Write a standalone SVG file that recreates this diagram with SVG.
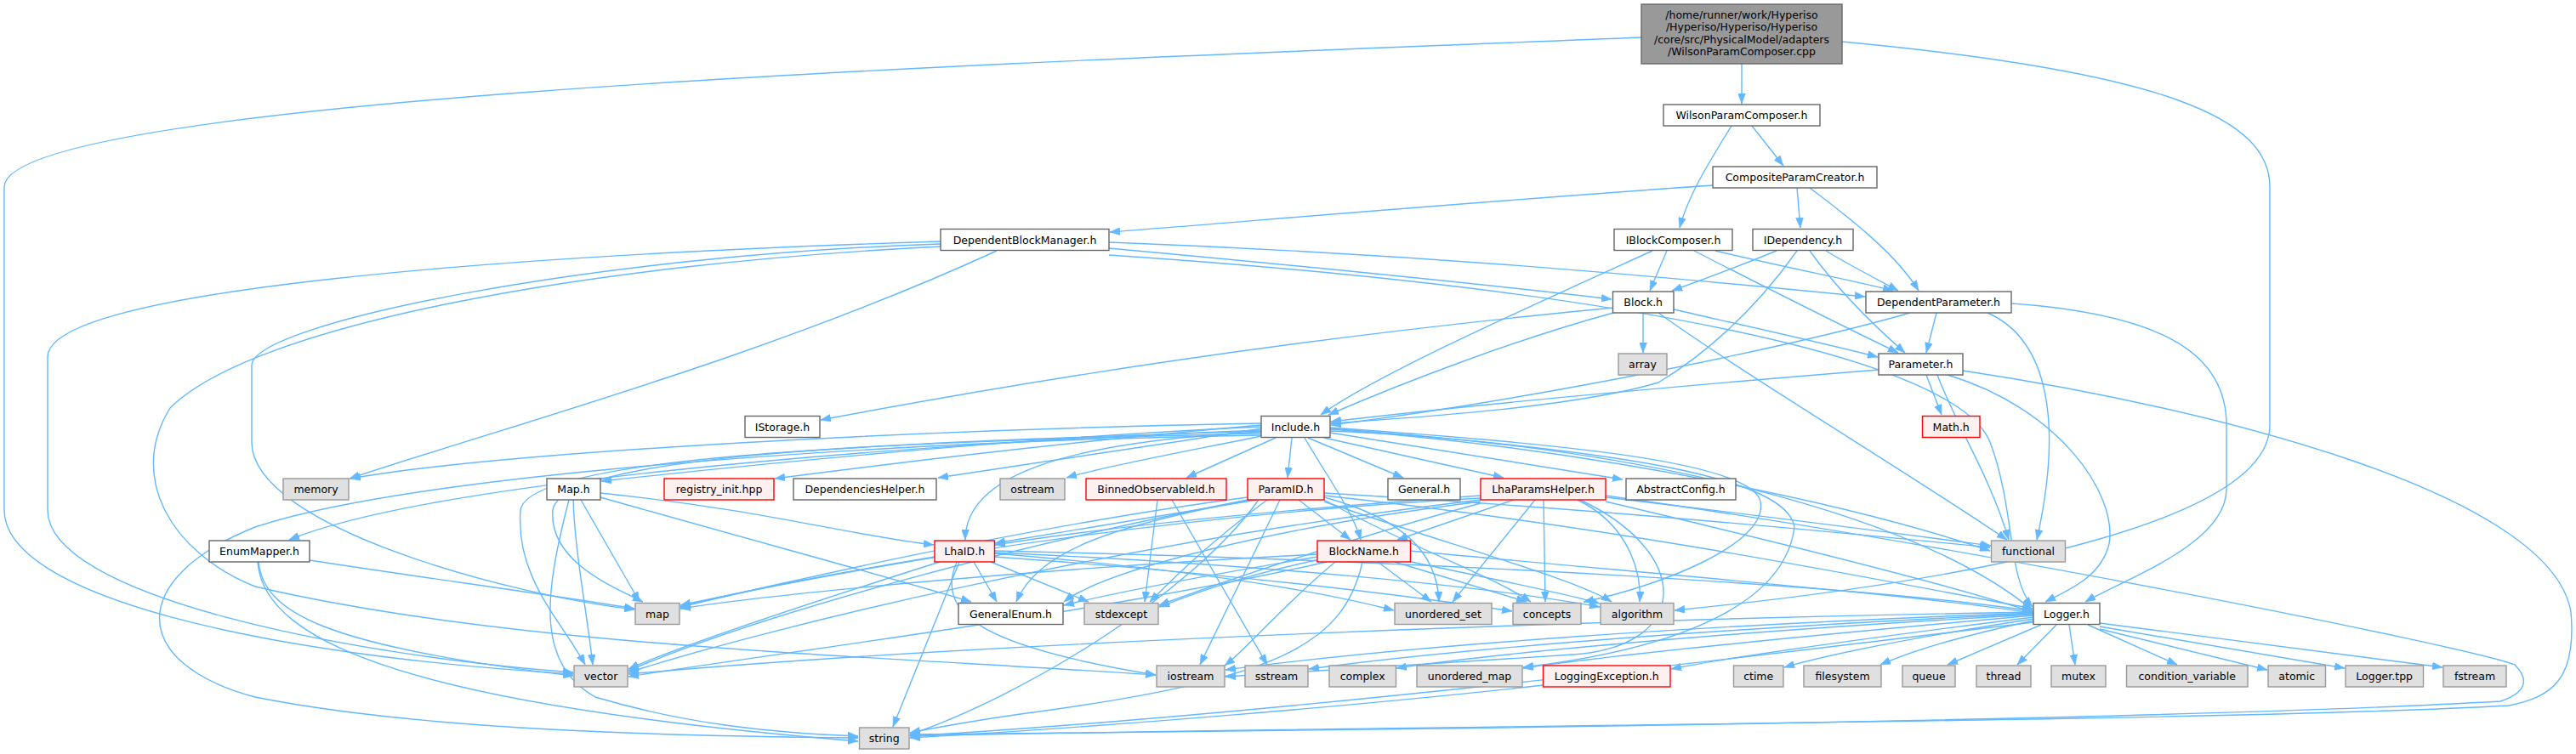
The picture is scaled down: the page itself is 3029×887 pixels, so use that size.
<svg xmlns="http://www.w3.org/2000/svg" width="3029" height="887" viewBox="0 0 3029 887">
<style>
.n rect{stroke-width:1.4}
.w rect{fill:#ffffff;stroke:#666666}
.g rect{fill:#e0e0e0;stroke:#999999}
.r rect{fill:#fff0f0;stroke:#ff0000}
.m rect{fill:#999999;stroke:#666666}
.n text{font-family:"DejaVu Sans","Liberation Sans",sans-serif;font-size:12.5px;text-anchor:middle;fill:#000}
.e path{fill:none;stroke:#63b8ff;stroke-width:1.4;marker-end:url(#a)}
</style>
<defs>
<marker id="a" markerUnits="userSpaceOnUse" markerWidth="12" markerHeight="9" refX="12" refY="4.5" orient="auto">
<path d="M0,0 L12,4.5 L0,9 z" fill="#63b8ff" stroke="#63b8ff" stroke-width="0.5"/>
</marker>
</defs>
<rect width="3029" height="887" fill="#ffffff"/>
<g id="edges" class="e">
<path d="M2048,75 L2048,122"/>
<path d="M1930,44 C1300,70 5,110 5,220 L5,600 C5,700 300,770 674,793"/>
<path d="M2166,49 C2550,85 2669,140 2669,220 L2669,500 C2669,610 2350,680 1969,718"/>
<path d="M2060,148 L2097,195"/>
<path d="M2036,148 C2010,190 1985,230 1975,268"/>
<path d="M2113,221 L2117,268"/>
<path d="M2128,221 C2180,260 2230,300 2256,342"/>
<path d="M2014,218 C1700,240 1450,262 1305,273"/>
<path d="M1960,295 L1940,342"/>
<path d="M2017,295 C2100,315 2180,330 2226,342"/>
<path d="M1992,295 C2080,340 2180,390 2232,415"/>
<path d="M1943,295 C1800,360 1620,440 1553,488"/>
<path d="M2089,295 C2040,315 2000,330 1966,342"/>
<path d="M2147,295 C2180,315 2210,330 2232,342"/>
<path d="M2128,295 C2160,340 2200,380 2240,415"/>
<path d="M2113,295 C2060,370 2000,420 1950,450 C1850,480 1650,492 1565,498"/>
<path d="M1304,292 C1500,310 1750,335 1895,352"/>
<path d="M1304,285 C1700,300 2000,330 2193,349"/>
<path d="M1304,300 C1900,340 2300,420 2340,520 C2370,600 2360,680 2390,714"/>
<path d="M1172,295 C900,420 600,500 411,563"/>
<path d="M1106,284 C600,300 56,340 56,420 L56,600 C56,700 400,770 674,791"/>
<path d="M1106,287 C700,300 296,380 296,430 L296,520 C296,620 600,700 746,717"/>
<path d="M1106,290 C700,310 300,380 200,480 C150,560 200,650 300,690 C600,760 1000,770 1359,794"/>
<path d="M1932,368 L1932,415"/>
<path d="M1968,364 C2060,385 2150,405 2208,420"/>
<path d="M1897,368 C1780,400 1650,450 1562,488"/>
<path d="M1897,362 C1500,400 1200,450 965,494"/>
<path d="M1950,368 C2050,440 2250,560 2360,635"/>
<path d="M2277,368 L2265,415"/>
<path d="M2246,368 C2100,410 1800,470 1565,500"/>
<path d="M2337,368 C2410,400 2425,500 2395,635"/>
<path d="M2365,357 C2550,370 2618,420 2618,500 L2618,575 C2618,640 2500,680 2452,708"/>
<path d="M2209,435 C1900,460 1700,480 1565,496"/>
<path d="M2265,441 L2283,488"/>
<path d="M2278,441 C2300,500 2340,560 2362,635"/>
<path d="M2290,441 C2420,480 2490,580 2480,640 C2470,680 2430,695 2405,708"/>
<path d="M2308,436 C2600,480 3000,580 3023,720 C3030,800 3000,820 2950,830 C2600,850 1500,855 1070,866"/>
<path d="M1483,498 C1100,505 600,530 412,563"/>
<path d="M1483,502 C1200,515 900,545 707,566"/>
<path d="M1483,506 C1000,525 500,570 340,635"/>
<path d="M1483,500 C1250,520 1050,545 911,563"/>
<path d="M1484,504 C1350,525 1200,548 1103,562"/>
<path d="M1488,512 C1400,530 1300,548 1254,562"/>
<path d="M1500,515 L1395,562"/>
<path d="M1519,515 L1514,562"/>
<path d="M1483,508 C1250,520 1135,560 1135,635"/>
<path d="M1538,515 L1650,562"/>
<path d="M1557,515 L1768,562"/>
<path d="M1564,509 L1908,564"/>
<path d="M1534,515 C1560,560 1590,600 1600,635"/>
<path d="M1564,503 C1800,520 2060,540 2070,590 C2080,640 1950,690 1862,708"/>
<path d="M1564,504 C1900,530 2100,560 2110,620 C2100,700 2000,760 1791,785"/>
<path d="M1483,510 C1000,520 620,540 612,600 C606,680 660,730 688,782"/>
<path d="M1483,507 C1100,520 660,530 650,600 C645,660 720,690 756,708"/>
<path d="M1483,512 C1000,520 480,560 300,620 C150,680 150,780 300,820 C500,860 800,866 1009,868"/>
<path d="M1564,507 C1900,520 2250,600 2390,718"/>
<path d="M1564,505 C1900,530 2200,600 2340,648"/>
<path d="M683,588 L752,708"/>
<path d="M674,588 C676,650 690,720 697,782"/>
<path d="M669,588 C640,700 630,780 700,820 C800,850 900,862 1009,866"/>
<path d="M706,580 C900,600 1000,630 1098,641"/>
<path d="M706,585 C900,640 1050,680 1142,708"/>
<path d="M364,659 C500,680 650,700 746,716"/>
<path d="M304,661 C310,720 380,760 674,795"/>
<path d="M303,661 C310,760 500,830 1009,872"/>
<path d="M1361,588 L1346,708"/>
<path d="M1378,588 L1490,782"/>
<path d="M1478,588 C1350,610 1250,625 1170,639"/>
<path d="M1505,588 L1411,782"/>
<path d="M1490,588 C1420,640 1380,680 1352,708"/>
<path d="M1467,585 C1200,620 900,690 800,714"/>
<path d="M1467,588 C1200,640 900,720 739,789"/>
<path d="M1480,588 C1400,700 1200,820 1070,864"/>
<path d="M1527,588 L1588,635"/>
<path d="M1470,588 C1300,620 1220,650 1195,708"/>
<path d="M1557,585 C1650,610 1690,650 1692,708"/>
<path d="M1557,588 C1650,640 1760,680 1800,708"/>
<path d="M1557,590 C1700,640 1850,680 1895,708"/>
<path d="M1557,583 C1900,620 2200,680 2390,716"/>
<path d="M1557,580 C1900,600 2200,630 2340,644"/>
<path d="M1145,661 L1172,708"/>
<path d="M1165,661 L1280,708"/>
<path d="M1099,655 C950,680 850,700 800,714"/>
<path d="M1105,661 C950,710 800,760 739,787"/>
<path d="M1128,661 L1050,855"/>
<path d="M1125,661 C1100,720 1150,760 1359,794"/>
<path d="M1169,651 C1400,670 1550,695 1639,718"/>
<path d="M1169,655 C1450,675 1650,700 1778,719"/>
<path d="M1169,650 C1500,665 1750,690 1881,714"/>
<path d="M1169,648 C1700,660 2200,690 2390,719"/>
<path d="M1780,588 L1643,635"/>
<path d="M1805,588 L1708,708"/>
<path d="M1815,588 L1817,708"/>
<path d="M1855,588 C1920,620 1930,680 1928,708"/>
<path d="M1741,583 C1500,600 1300,620 1170,641"/>
<path d="M1741,586 C1300,610 950,680 800,712"/>
<path d="M1741,588 C1300,640 900,740 739,791"/>
<path d="M1741,590 C1500,620 1300,670 1251,708"/>
<path d="M1741,592 C1600,630 1450,680 1363,712"/>
<path d="M1858,588 C1990,650 1990,760 1850,770 C1700,780 1550,790 1441,796"/>
<path d="M1888,590 C2100,640 2300,690 2390,720"/>
<path d="M1888,585 C2100,610 2250,630 2341,642"/>
<path d="M1888,583 C2300,640 2900,760 2957,782 C2975,800 2970,815 2940,825 C2500,850 1500,860 1070,864"/>
<path d="M1620,661 L1683,708"/>
<path d="M1640,661 L1795,708"/>
<path d="M1655,660 C1750,680 1850,700 1881,710"/>
<path d="M1549,655 C1400,680 1300,700 1251,712"/>
<path d="M1552,658 C1450,680 1400,700 1363,714"/>
<path d="M1549,652 C1200,670 900,700 800,716"/>
<path d="M1560,661 C1300,720 900,770 739,796"/>
<path d="M1602,661 C1580,760 1500,800 1200,840 C1130,850 1090,858 1070,862"/>
<path d="M1570,661 C1500,720 1470,760 1440,783"/>
<path d="M1658,648 C2000,680 2250,700 2390,721"/>
<path d="M2400,735 L2290,782"/>
<path d="M2418,735 L2372,782"/>
<path d="M2433,735 L2440,782"/>
<path d="M2455,735 L2560,782"/>
<path d="M2469,740 L2666,788"/>
<path d="M2469,737 L2757,786"/>
<path d="M2469,733 L2872,785"/>
<path d="M2391,730 C2300,750 2250,765 2211,782"/>
<path d="M2391,728 C2250,750 2150,770 2098,785"/>
<path d="M2391,726 C2200,750 2050,770 1965,787"/>
<path d="M2391,724 C2100,750 1900,770 1791,786"/>
<path d="M2391,723 C2000,745 1750,770 1642,786"/>
<path d="M2391,722 C2000,740 1700,765 1539,787"/>
<path d="M2391,721 C2000,735 1650,760 1441,788"/>
<path d="M2391,720 C1800,730 1100,760 739,793"/>
<path d="M2391,732 C2000,780 1500,840 1070,866"/>
<path d="M1815,806 C1600,830 1300,855 1070,868"/>
</g>
<g id="n-main" class="n m"><rect x="1930" y="5" width="236" height="70"/><text x="2048" y="21.5">/home/runner/work/Hyperiso</text><text x="2048" y="36">/Hyperiso/Hyperiso/Hyperiso</text><text x="2048" y="50.5">/core/src/PhysicalModel/adapters</text><text x="2048" y="65">/WilsonParamComposer.cpp</text></g>
<g id="n-wilson" class="n w"><rect x="1956" y="123" width="184" height="25"/><text x="2048" y="140">WilsonParamComposer.h</text></g>
<g id="n-composite" class="n w"><rect x="2014" y="196" width="193" height="25"/><text x="2110.5" y="213">CompositeParamCreator.h</text></g>
<g id="n-iblock" class="n w"><rect x="1898" y="269.5" width="139" height="25"/><text x="1967.5" y="286.5">IBlockComposer.h</text></g>
<g id="n-idep" class="n w"><rect x="2061" y="269.5" width="118" height="25"/><text x="2120" y="286.5">IDependency.h</text></g>
<g id="n-dbm" class="n w"><rect x="1106" y="269.5" width="198" height="25"/><text x="1205" y="286.5">DependentBlockManager.h</text></g>
<g id="n-block" class="n w"><rect x="1896.5" y="343" width="71.5" height="25"/><text x="1932.2" y="360">Block.h</text></g>
<g id="n-depparam" class="n w"><rect x="2194" y="343" width="171" height="25"/><text x="2279.5" y="360">DependentParameter.h</text></g>
<g id="n-array" class="n g"><rect x="1903" y="416" width="57" height="25"/><text x="1931.5" y="433">array</text></g>
<g id="n-param" class="n w"><rect x="2209" y="416" width="99" height="25"/><text x="2258.5" y="433">Parameter.h</text></g>
<g id="n-istorage" class="n w"><rect x="876" y="489.5" width="88" height="25"/><text x="920" y="506.5">IStorage.h</text></g>
<g id="n-include" class="n w"><rect x="1483" y="489.5" width="81" height="25"/><text x="1523.5" y="506.5">Include.h</text></g>
<g id="n-math" class="n r"><rect x="2260.5" y="489.5" width="67.5" height="25"/><text x="2294.2" y="506.5">Math.h</text></g>
<g id="n-memory" class="n g"><rect x="333" y="563" width="77" height="25"/><text x="371.5" y="580">memory</text></g>
<g id="n-maph" class="n w"><rect x="643" y="563" width="63" height="25"/><text x="674.5" y="580">Map.h</text></g>
<g id="n-registry" class="n r"><rect x="781" y="563" width="129" height="25"/><text x="845.5" y="580">registry_init.hpp</text></g>
<g id="n-dephelper" class="n w"><rect x="933" y="563" width="168" height="25"/><text x="1017" y="580">DependenciesHelper.h</text></g>
<g id="n-ostream" class="n g"><rect x="1176" y="563" width="76" height="25"/><text x="1214" y="580">ostream</text></g>
<g id="n-binned" class="n r"><rect x="1277" y="563" width="165" height="25"/><text x="1359.5" y="580">BinnedObservableId.h</text></g>
<g id="n-paramid" class="n r"><rect x="1467" y="563" width="90" height="25"/><text x="1512" y="580">ParamID.h</text></g>
<g id="n-general" class="n w"><rect x="1632" y="563" width="85" height="25"/><text x="1674.5" y="580">General.h</text></g>
<g id="n-lhaparams" class="n r"><rect x="1741" y="563" width="147" height="25"/><text x="1814.5" y="580">LhaParamsHelper.h</text></g>
<g id="n-abstract" class="n w"><rect x="1912" y="563" width="129" height="25"/><text x="1976.5" y="580">AbstractConfig.h</text></g>
<g id="n-enummapper" class="n w"><rect x="246" y="636" width="118" height="25"/><text x="305" y="653">EnumMapper.h</text></g>
<g id="n-lhaid" class="n r"><rect x="1099" y="636" width="70.5" height="25"/><text x="1134.2" y="653">LhaID.h</text></g>
<g id="n-blockname" class="n r"><rect x="1549" y="636" width="109.5" height="25"/><text x="1603.7" y="653">BlockName.h</text></g>
<g id="n-functional" class="n g"><rect x="2341.5" y="636" width="87" height="25"/><text x="2385" y="653">functional</text></g>
<g id="n-map" class="n g"><rect x="747" y="709.5" width="52" height="25"/><text x="773" y="726.5">map</text></g>
<g id="n-generalenum" class="n w"><rect x="1127" y="709.5" width="123" height="25"/><text x="1188.5" y="726.5">GeneralEnum.h</text></g>
<g id="n-stdexcept" class="n g"><rect x="1275" y="709.5" width="87" height="25"/><text x="1318.5" y="726.5">stdexcept</text></g>
<g id="n-uset" class="n g"><rect x="1640" y="709.5" width="114" height="25"/><text x="1697" y="726.5">unordered_set</text></g>
<g id="n-concepts" class="n g"><rect x="1779" y="709.5" width="80" height="25"/><text x="1819" y="726.5">concepts</text></g>
<g id="n-algorithm" class="n g"><rect x="1882" y="709.5" width="86" height="25"/><text x="1925" y="726.5">algorithm</text></g>
<g id="n-logger" class="n w"><rect x="2391" y="709.5" width="78" height="25"/><text x="2430" y="726.5">Logger.h</text></g>
<g id="n-vector" class="n g"><rect x="675" y="783" width="63" height="25"/><text x="706.5" y="800">vector</text></g>
<g id="n-iostream" class="n g"><rect x="1360" y="783" width="80" height="25"/><text x="1400" y="800">iostream</text></g>
<g id="n-sstream" class="n g"><rect x="1464" y="783" width="74" height="25"/><text x="1501" y="800">sstream</text></g>
<g id="n-complex" class="n g"><rect x="1563" y="783" width="78.5" height="25"/><text x="1602.2" y="800">complex</text></g>
<g id="n-umap" class="n g"><rect x="1666" y="783" width="124" height="25"/><text x="1728" y="800">unordered_map</text></g>
<g id="n-logexc" class="n r"><rect x="1814.5" y="783" width="149.5" height="25"/><text x="1889.2" y="800">LoggingException.h</text></g>
<g id="n-ctime" class="n g"><rect x="2038.5" y="783" width="58.5" height="25"/><text x="2067.7" y="800">ctime</text></g>
<g id="n-filesystem" class="n g"><rect x="2121" y="783" width="91" height="25"/><text x="2166.5" y="800">filesystem</text></g>
<g id="n-queue" class="n g"><rect x="2237" y="783" width="62" height="25"/><text x="2268" y="800">queue</text></g>
<g id="n-thread" class="n g"><rect x="2324" y="783" width="64" height="25"/><text x="2356" y="800">thread</text></g>
<g id="n-mutex" class="n g"><rect x="2412" y="783" width="64" height="25"/><text x="2444" y="800">mutex</text></g>
<g id="n-condvar" class="n g"><rect x="2500.5" y="783" width="142.5" height="25"/><text x="2571.7" y="800">condition_variable</text></g>
<g id="n-atomic" class="n g"><rect x="2667" y="783" width="67.5" height="25"/><text x="2700.7" y="800">atomic</text></g>
<g id="n-loggertpp" class="n g"><rect x="2758" y="783" width="91.5" height="25"/><text x="2803.7" y="800">Logger.tpp</text></g>
<g id="n-fstream" class="n g"><rect x="2873" y="783" width="74" height="25"/><text x="2910" y="800">fstream</text></g>
<g id="n-string" class="n g"><rect x="1010.5" y="856" width="58.5" height="25"/><text x="1039.7" y="873">string</text></g>
</svg>
